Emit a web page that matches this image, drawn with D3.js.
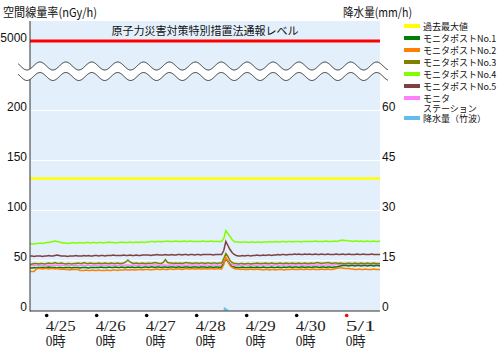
<!DOCTYPE html>
<html>
<head>
<meta charset="utf-8">
<script src="https://cdn.jsdelivr.net/npm/d3@7"></script>
<style>
  html, body { margin: 0; padding: 0; background: #fff; }
  svg { display: block; }
  .ax { font-family: "Liberation Sans", Arial, sans-serif; font-size: 12px; fill: #111; }
  .jp { font-family: "Noto Sans CJK JP", sans-serif; fill: #111; }
  .dt { font-family: "Liberation Serif", "Noto Sans CJK JP", serif; font-size: 14px; fill: #222; }
</style>
</head>
<body>
<div id="chart"></div>
<script>
// hourly readings, 2011-04-24 16:00 .. 2011-05-01 16:00 (nGy/h)
const startTime = new Date(2011, 3, 24, 16);

const no1 = [
  42.5,42.5,43,42.5,43,43,43,43,
  43,43.5,43,43,43,42.5,43,43,42.5,43,43,43,42.5,43,43,43,42.5,43,43,43,42.5,43,43,43,
  43,43,43.5,43,43,43,43.5,43,43,43.5,43,43,43.5,43,43,43.5,43,43.5,43,43,43.5,43,43,43.5,
  43.5,43,43.5,43.5,43,43.5,43.5,43,43.5,43.5,43,43.5,43.5,43.5,43,43.5,43.5,43,43.5,43.5,43.5,43,43.5,43.5,
  43.5,43,43.5,43.5,43.5,43,43.5,43.5,43,43.5,43.5,43,43.5,47,52,49,46,44,43.5,43,43,43,43.5,43,
  43,43,43.5,43,43,43.5,43,43,43.5,43,43,43,43.5,43,43,43.5,43,43,43.5,43,43.5,43.5,43,43.5,
  43.5,43,43.5,43.5,43,43.5,43.5,43,43.5,43.5,43.5,43,43.5,43.5,43,43.5,43.5,43,43.5,43.5,44,44.5,45,45,
  45,44.5,45,45,44.5,45,45,44.5,45,45,44.5,45,45,44.5,45,45,44.5
];
const no2 = [
  39,39,39,41.5,42,42,41.5,42,
  42,41.5,42,42,41.5,42,41.5,41,41.5,41,41,40.5,41,41,41,41,40,40,40,40.5,40,40,40.5,40,
  40,40.5,40,40,40,40.5,40,40,40.5,40.5,40,40.5,40.5,40.5,41,40.5,40.5,41,40.5,40.5,41,41,40.5,41,
  41,41,40.5,41,41,41.5,41,41,41.5,41,41,41.5,41.5,41,41.5,41.5,41.5,41,41.5,42,41.5,41.5,42,41.5,
  41.5,42,41.5,41.5,42,41.5,41.5,42,41.5,41.5,42,41.5,41.5,46,53,49,45,43,42,41.5,41.5,41,41.5,41,
  41,41,41.5,41,41,41.5,41,41,40.5,41,41,40.5,41,41,40.5,41,41,41,40.5,41,41,41,41.5,41,
  41,41,41.5,41,41,41.5,41,41,41.5,41,41,41,41.5,41,41,41.5,41,41,41.5,42,42.5,42.5,42.5,42,
  42,42,41.5,41.5,41,41,41.5,41,41,41.5,41,41,41,41.5,41,41,41
];
const no3 = [
  46,46.5,47,47,46.5,47,47,46.5,
  47,47.5,47,47,48,47,47,47.5,47,46.5,47,47,46.5,47,47,47.5,47,47,48,47,47,47.5,47,47,
  47,47.5,47,47,47.5,47,47,47.5,47,47,47.5,47,47,47.5,48.5,50.5,48.5,47.5,47,47.5,47,47,47.5,47,
  47,47.5,47,47.5,48,47.5,47,47,48,51,48,47.5,47.5,47,47.5,47,47.5,47,47.5,48,47.5,47.5,47,47.5,
  47.5,47,47.5,47.5,47,47.5,47.5,47,47.5,47.5,47,47.5,47.5,52,57,54,50,48,47,47,46.5,47,47,46.5,
  47,47,46.5,47,47,47.5,47,47,47,47.5,47,47,47.5,47,47,47,47.5,47,47,47.5,47,47,47.5,47,
  47,47.5,47,47,47.5,47,47,47.5,47,47.5,48,47.5,47,47.5,47.5,48,47.5,47,47.5,47.5,47,47.5,47,47,
  47,47.5,47,47,47.5,47,47,47.5,47,47,47.5,47,47,47.5,47,47,47
];
const no4 = [
  67,66.5,66.5,67,67,67.5,67,67.5,
  68,68,68.5,69,69.5,69,68.5,68,67.5,67.5,67,67.5,67.5,68,67.5,67.5,68,67.5,67.5,68,68,67.5,68,68,
  67.5,68,68,67.5,68,68,68.5,68,68,67.5,68,68,68.5,68,68,68,68.5,68,68,68.5,68,68.5,68.5,68,
  68.5,68.5,69,69,68.5,69,69,68.5,69,69,69.5,69,69,69,69.5,69,69,69,69.5,69,69,69.5,69,69,
  69,69,69,69.5,69,69,69,69.5,69,69,69,69,69,72,80,77,74,71,69,68.5,68.5,68,68.5,68.5,
  68.5,68,68.5,68.5,68,68.5,68.5,68,68.5,68.5,68.5,69,68.5,68.5,69,68.5,68.5,69,69,68.5,69,69,68.5,69,
  69,69,68.5,69,69,69,69,69,69,69.5,69,69,69,69,69.5,69,69,69,69.5,69,69.5,70,70.5,70,
  70,69.5,69.5,69,69.5,69.5,69,69.5,69,69,69.5,69,69,69.5,69,69,69.5
];
const no5 = [
  54.5,54.5,54,54.5,54.5,54.5,54,54.5,
  54.5,55,54.5,54.5,55,55.5,55,54.5,54.5,54.5,54,54.5,54.5,54.5,55,54.5,54.5,54.5,55,54.5,55,54.5,54.5,55,
  55,54.5,55,55,54.5,55,55,55,55.5,55,55,55,55,55.5,55,55,55.5,55,55,55.5,55,55,55.5,55.5,
  55.5,55.5,55,55.5,55.5,56,55.5,55.5,55.5,56,55.5,55.5,56,55.5,55.5,56,56,55.5,56,56,55.5,56,56,55.5,
  56,56,55.5,56,56,56,56,56,55.5,56,56,56,56,60,69,65,61,58,56,55,54.5,54.5,55,54.5,
  55,55,54.5,55,55,55.5,55,55,55.5,55,55.5,55.5,55,55.5,55.5,56,55.5,56,56,55.5,56,56,56,56.5,
  56,56.5,56,56,56.5,56,56.5,56,56,56.5,56,56,56.5,56,56,56.5,56,56,56,56.5,56,56,56.5,56,
  56,56.5,56,56,56,56.5,56,56,56.5,56,56,56,56.5,56,56,56,56
];
const station = [
  45,45,45.5,45,45,45.5,45,45,
  45,45.5,45,45,45.5,45,45,45.5,45,45,45.5,45,45,45,45.5,45,45,45.5,45,45,45.5,45,45,45.5,
  45,45.5,45.5,45,45.5,45,45.5,45.5,45,45.5,45,45.5,45.5,45,45.5,45.5,45,45.5,45.5,45,45.5,45,45.5,45.5,
  45.5,45.5,45,45.5,45.5,45.5,45,45.5,45.5,45.5,45,45.5,45.5,45.5,45.5,45,45.5,45.5,45.5,45,45.5,45.5,45.5,45.5,
  45.5,45.5,45,45.5,45.5,45.5,45,45.5,45.5,45.5,45.5,45,45.5,49,53,50,47,46,45.5,45,45.5,45,45.5,45.5,
  45.5,45,45.5,45.5,45,45.5,45.5,45.5,45,45.5,45.5,45.5,45,45.5,45.5,45.5,45,45.5,45.5,45.5,45.5,45,45.5,45.5,
  45.5,45.5,45.5,45,45.5,45.5,45.5,45.5,45,45.5,45.5,45.5,45.5,45,45.5,45.5,45.5,45.5,45.5,46,46,46,46,46,
  46,46,45.5,46,46,46,45.5,46,46,46,46,45.5,46,46,46,46,46
];

// rainfall (mm/h), hours with rain only
const rainHours = [new Date(2011, 3, 28, 13), new Date(2011, 3, 28, 14)];
const rainValues = [0.9, 0.5];

const pastMax = 132;       // 過去最大値
const alertLevel = 5000;   // 通報レベル

const leftTicks = [0, 50, 100, 150, 200, 5000];
const gridTicks = [50, 100, 150, 200];
const rightTicks = [0, 15, 30, 45, 60];
const dayTicks = [25, 26, 27, 28, 29, 30].map((d) => new Date(2011, 3, d)).concat([new Date(2011, 4, 1)]);

const seriesNames = ["モニタポストNo.1", "モニタポストNo.2", "モニタポストNo.3", "モニタポストNo.4", "モニタポストNo.5", "モニタ\nステーション"];
const seriesColors = ["#007f00", "#ff7f00", "#808000", "#80ff00", "#804040", "#ff80ff"];
const seriesData = [no1, no2, no3, no4, no5, station];

const W = 500, H = 354;
const P = { left: 30, right: 380, top: 21, bottom: 311 };

const svg = d3.select("#chart").append("svg").attr("width", W).attr("height", H);

const x = d3.scaleTime()
  .domain([startTime, d3.timeHour.offset(startTime, 168)])
  .range([P.left, P.right]);
// broken axis: 0..229 below the break, 5000 above it
const y = d3.scaleLinear().domain([0, 229, 4900, 5000]).range([310.5, 81.5, 62, 41]);
const yRain = d3.scaleLinear().domain([0, 60]).range([310.5, 110.5]);

// plot background + grid
svg.append("rect").attr("x", P.left).attr("y", P.top)
  .attr("width", P.right - P.left).attr("height", P.bottom - P.top).attr("fill", "#e3f0fb");
svg.append("g").selectAll("line").data(gridTicks).join("line")
  .attr("x1", P.left).attr("x2", P.right).attr("y1", (d) => y(d)).attr("y2", (d) => y(d))
  .attr("stroke", "#fff").attr("stroke-width", 1);

// reference levels
svg.append("line").attr("x1", P.left).attr("x2", P.right).attr("y1", y(pastMax)).attr("y2", y(pastMax))
  .attr("stroke", "#ffff00").attr("stroke-width", 2.5);
svg.append("line").attr("x1", P.left).attr("x2", P.right).attr("y1", y(alertLevel)).attr("y2", y(alertLevel))
  .attr("stroke", "#f00").attr("stroke-width", 3);
svg.append("text").attr("class", "jp").attr("x", (P.left + P.right) / 2).attr("y", 35)
  .attr("text-anchor", "middle").style("font-size", "11px").text("原子力災害対策特別措置法通報レベル");

// rain bars
svg.append("g").selectAll("rect").data(rainHours).join("rect")
  .attr("x", (t) => x(t)).attr("width", (t) => x(d3.timeHour.offset(t, 1)) - x(t))
  .attr("y", (t, i) => yRain(rainValues[i])).attr("height", (t, i) => yRain(0) - yRain(rainValues[i]))
  .attr("fill", "#66bbee");

// series lines
const line = d3.line()
  .x((v, i) => x(d3.timeHour.offset(startTime, i)))
  .y((v) => y(v));
const drawOrder = [5, 0, 2, 4, 3, 1];
svg.append("g").selectAll("path").data(drawOrder).join("path")
  .attr("d", (k) => line(seriesData[k]))
  .attr("fill", "none").attr("stroke", (k) => seriesColors[k]).attr("stroke-width", 1.5);

// axes lines
svg.append("line").attr("x1", P.left).attr("x2", P.left).attr("y1", P.top).attr("y2", P.bottom + 0.5)
  .attr("stroke", "#333").attr("stroke-width", 1);
svg.append("line").attr("x1", P.left).attr("x2", P.right).attr("y1", P.bottom).attr("y2", P.bottom)
  .attr("stroke", "#333").attr("stroke-width", 1.2);

// axis break (two waves with white between)
const wavePeriod = 25.9, waveAmp = 4, waveX0 = 18, waveX1 = 388;
const wy1 = (px) => 66 + waveAmp * Math.cos(2 * Math.PI * (px - 27) / wavePeriod);
const wy2 = (px) => wy1(px) + 10.5;
const wx = d3.range(waveX0, waveX1 + 0.5, 0.5);
const wave = d3.line().x((p) => p[0]).y((p) => p[1]);
const waveTop = wx.map((p) => [p, wy1(p)]);
const waveBot = wx.map((p) => [p, wy2(p)]);
svg.append("path").attr("d", wave(waveTop.concat(waveBot.slice().reverse())) + "Z").attr("fill", "#fff");
svg.append("path").attr("d", wave(waveTop)).attr("fill", "none").attr("stroke", "#333").attr("stroke-width", 1);
svg.append("path").attr("d", wave(waveBot)).attr("fill", "none").attr("stroke", "#333").attr("stroke-width", 1);

// left tick labels
svg.append("g").selectAll("text").data(leftTicks).join("text").attr("class", "ax")
  .attr("x", 27).attr("y", (d) => y(d) + 0.5).attr("text-anchor", "end").text((d) => d);
// right tick labels
svg.append("g").selectAll("text").data(rightTicks).join("text").attr("class", "ax")
  .attr("x", 382).attr("y", (d) => yRain(d) + 0.5).text((d) => d);

// titles
svg.append("text").attr("class", "jp").attr("x", 3).attr("y", 17).style("font-size", "12px")
  .attr("textLength", 94).attr("lengthAdjust", "spacingAndGlyphs").text("空間線量率(nGy/h)");
svg.append("text").attr("class", "jp").attr("x", 343).attr("y", 17).style("font-size", "12px")
  .attr("textLength", 69).attr("lengthAdjust", "spacingAndGlyphs").text("降水量(mm/h)");

// date ticks
const fmtDate = d3.timeFormat("%-m/%-d");
const gDay = svg.append("g").selectAll("g").data(dayTicks).join("g");
gDay.append("circle").attr("cx", (d) => x(d)).attr("cy", 315.5).attr("r", 1.8)
  .attr("fill", (d) => (d.getDay() === 0 ? "#f00" : "#000"));
gDay.append("text").attr("class", "dt").attr("x", (d) => x(d) - 1).attr("y", 331)
  .attr("textLength", 30).attr("lengthAdjust", "spacingAndGlyphs").text((d) => fmtDate(d));
gDay.append("text").attr("class", "dt").attr("x", (d) => x(d) - 1).attr("y", 346)
  .attr("textLength", 20).attr("lengthAdjust", "spacingAndGlyphs").text("0時");

// legend
const legNames = ["過去最大値"].concat(seriesNames, ["降水量（竹波）"]);
const legColors = ["#ffff00"].concat(seriesColors, ["#66bbee"]);
const legY = (i) => 26 + i * 12 + (i > 6 ? 8 : 0);
const gLeg = svg.append("g").selectAll("g").data(legNames).join("g");
gLeg.append("rect").attr("x", 404).attr("y", (d, i) => legY(i) - 2).attr("width", 16).attr("height", 4)
  .attr("fill", (d, i) => legColors[i]);
gLeg.each(function (d, i) {
  const t = d3.select(this).append("text").attr("class", "jp").style("font-size", "9px");
  d.split("\n").forEach((s, j) => {
    t.append("tspan").attr("x", 423).attr("y", legY(i) + 3.5 + j * 10).text(s);
  });
});
</script>
</body>
</html>
